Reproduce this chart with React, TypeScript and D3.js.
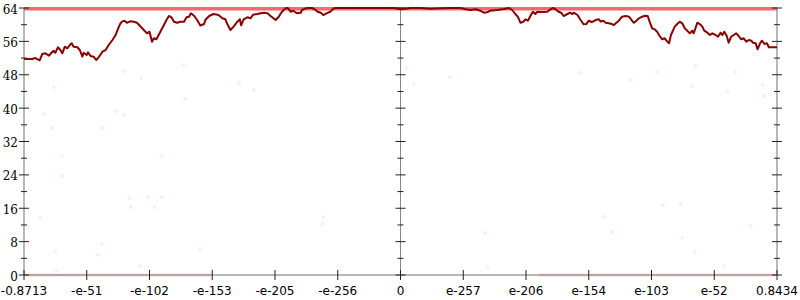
import React from "react";
import * as d3 from "d3";

// x positions are expressed in "tick units": tick i sits at i (-6..6)
const xTickLabels = ["-0.8713", "-e-51", "-e-102", "-e-153", "-e-205", "-e-256", "0", "e-257", "e-206", "e-154", "e-103", "e-52", "0.8434"];
const yMajor = [0, 8, 16, 24, 32, 40, 48, 56, 64];
const yMinor = [4, 12, 20, 28, 36, 44, 52, 60];

const lineX = [
  -6.0, -5.87, -5.82, -5.75, -5.71, -5.66, -5.6, -5.58, -5.53, -5.5, -5.46, -5.42, -5.39, -5.35, -5.31, -5.27, -5.24, -5.21, -5.15, -5.11,
  -5.07, -5.05, -5.0, -4.98, -4.94, -4.89, -4.85, -4.81, -4.75, -4.7, -4.65, -4.59, -4.54, -4.51, -4.47, -4.44, -4.4, -4.36, -4.31, -4.25,
  -4.2, -4.14, -4.09, -4.04, -4.0, -3.96, -3.93, -3.89, -3.84, -3.77, -3.73, -3.69, -3.65, -3.61, -3.56, -3.51, -3.45, -3.41, -3.37, -3.34,
  -3.29, -3.24, -3.19, -3.13, -3.11, -3.05, -2.98, -2.9, -2.84, -2.79, -2.76, -2.71, -2.66, -2.6, -2.56, -2.54, -2.5, -2.44, -2.39, -2.35,
  -2.28, -2.23, -2.17, -2.12, -2.07, -1.99, -1.94, -1.89, -1.83, -1.8, -1.75, -1.71, -1.65, -1.59, -1.57, -1.51, -1.46, -1.41, -1.37, -1.32,
  -1.27, -1.23, -1.18, -1.12, -1.06, -1.01, -0.7, -0.4, -0.1, 0.0, 0.05, 0.16, 0.32, 0.48, 0.64, 0.8, 0.96, 1.04, 1.12, 1.2,
  1.27, 1.33, 1.38, 1.43, 1.54, 1.65, 1.73, 1.78, 1.83, 1.87, 1.91, 1.96, 1.99, 2.03, 2.07, 2.11, 2.15, 2.18, 2.23, 2.34,
  2.39, 2.43, 2.47, 2.52, 2.56, 2.6, 2.66, 2.7, 2.74, 2.76, 2.82, 2.87, 2.92, 2.96, 3.0, 3.05, 3.11, 3.16, 3.19, 3.23,
  3.27, 3.32, 3.37, 3.4, 3.44, 3.48, 3.53, 3.59, 3.64, 3.69, 3.72, 3.76, 3.8, 3.85, 3.9, 3.94, 3.97, 4.01, 4.05, 4.09,
  4.13, 4.17, 4.21, 4.24, 4.28, 4.31, 4.37, 4.41, 4.45, 4.49, 4.53, 4.57, 4.61, 4.65, 4.67, 4.7, 4.73, 4.77, 4.81, 4.84,
  4.89, 4.93, 4.97, 5.02, 5.06, 5.1, 5.13, 5.16, 5.2, 5.23, 5.27, 5.31, 5.35, 5.39, 5.43, 5.47, 5.51, 5.55, 5.59, 5.62,
  5.66, 5.69, 5.73, 5.76, 5.8, 5.84, 5.87, 6.0,
];
const lineY = [
  51.77, 51.77, 52.01, 51.46, 52.97, 53.14, 52.57, 52.97, 53.76, 53.28, 54.58, 53.93, 53.14, 54.72, 54.34, 55.13, 55.54, 54.72, 54.58, 53.93,
  52.33, 53.28, 52.73, 53.38, 52.49, 52.33, 51.53, 52.18, 53.52, 53.93, 55.13, 56.33, 57.53, 58.72, 60.16, 60.72, 60.95, 60.47, 60.81, 60.72,
  60.47, 59.52, 58.72, 57.93, 58.32, 55.92, 56.74, 56.5, 57.93, 59.92, 61.12, 62.08, 61.77, 60.72, 60.47, 60.72, 60.72, 61.77, 61.91, 62.73,
  62.15, 61.12, 59.8, 60.16, 61.12, 62.08, 62.56, 62.32, 61.53, 61.29, 60.16, 58.72, 59.52, 60.72, 61.29, 59.85, 61.29, 61.77, 61.53, 62.39,
  62.56, 62.73, 62.87, 62.73, 62.08, 61.12, 61.91, 63.11, 63.93, 64.0, 63.11, 63.35, 62.73, 62.87, 63.52, 63.93, 64.0, 64.0, 63.69, 63.11,
  62.87, 62.32, 62.73, 63.11, 63.93, 64.0, 64.0, 64.0, 64.0, 63.69, 63.76, 64.0, 64.0, 63.83, 63.93, 64.0, 64.0, 63.69, 63.52, 63.69,
  63.35, 62.87, 62.97, 63.35, 63.52, 63.76, 64.0, 63.52, 62.56, 61.91, 60.47, 60.72, 61.29, 60.95, 62.08, 63.11, 62.56, 63.11, 63.04, 63.11,
  63.69, 64.0, 63.69, 63.11, 62.87, 62.08, 62.56, 62.87, 62.56, 62.87, 62.32, 61.12, 60.09, 60.16, 60.95, 60.64, 61.12, 61.29, 60.76, 60.95,
  60.47, 60.33, 60.16, 59.92, 60.47, 60.95, 61.91, 62.08, 61.91, 60.95, 60.47, 60.95, 61.53, 61.91, 62.15, 62.08, 60.72, 59.13, 58.89, 58.32,
  57.29, 56.5, 56.74, 56.16, 55.54, 57.53, 59.52, 60.16, 60.72, 60.33, 59.13, 58.56, 57.93, 58.56, 57.93, 59.13, 60.47, 60.16, 59.52, 58.56,
  58.08, 57.53, 57.93, 57.53, 57.12, 58.08, 57.53, 58.32, 57.29, 55.68, 57.12, 57.53, 57.93, 57.29, 56.5, 56.74, 55.92, 56.33, 56.16, 55.68,
  55.54, 54.1, 55.54, 56.16, 55.37, 55.54, 54.58, 54.58,
];

const dotX = [-5.53, -4.41, -4.13, -3.47, -3.43, -2.57, -2.34, 0.1, 0.21, 0.78, 2.87, 3.67, 4.08, 4.7, 4.65, 5.34, 5.21, 5.77, 5.79, -5.69,
  -5.56, -4.76, -4.54, -4.41, -5.39, -5.39, -3.81, -4.32, -4.02, -3.81, -3.92, -5.74, -5.93, -5.5, -4.76, -4.83, -4.3, -4.16, -3.2, -5.47,
  -1.23, -1.24, 1.35, 1.39, 3.24, 3.38, 4.18, 4.46, 4.49, 5.58, 4.69, 5.15];
const dotY = [45.06, 48.9, 47.22, 50.34, 42.19, 46.02, 44.34, 49.62, 45.78, 47.46, 48.42, 46.74, 48.66, 50.1, 45.3, 48.66, 44.1, 45.54, 42.91, 38.59,
  35.24, 35.24, 39.31, 38.35, 28.52, 23.73, 28.52, 18.46, 18.7, 18.7, 16.3, 13.66, 11.51, 5.75, 7.43, 4.79, 16.3, 2.16, 6.23, 0.96,
  13.9, 12.22, 10.07, 1.92, 13.9, 10.31, 16.78, 17.02, 8.87, 11.74, 5.51, 2.16];

// dense clusters of samples at the extremes, drawn as bands
const topBand = { value: 64, from: -6, to: 6 };
const bottomBands = [{ value: 0, from: -6, to: -3.0 }, { value: 0, from: 2.2, to: 6 }];

export default function App() {
  const W = 800, H = 300;
  const x = d3.scaleLinear().domain([-6, 6]).range([24, 777]);
  const y = d3.scaleLinear().domain([0, 64]).range([275, 8]);
  const pts: [number, number][] = lineX.map((v, i) => [v, lineY[i]]);
  const line = d3.line<[number, number]>().x((d) => x(d[0])).y((d) => y(d[1]));
  const xTicks = xTickLabels.map((_, i) => i - 6);
  const axisGray = "#b8b8b8";
  const tickCol = "#222";
  const vAxes = [{ pos: -6, major: 5, minor: 3, w: 2, col: axisGray }, { pos: 0, major: 5, minor: 3, w: 1, col: "#888" }, { pos: 6, major: 5, minor: 3, w: 2, col: axisGray }];
  return (
    <svg width={W} height={H} style={{ position: "absolute", left: 0, top: 0, background: "#fff" }}>
      {/* axis lines */}
      <line x1={x(-6)} x2={x(6)} y1={y(0)} y2={y(0)} stroke={axisGray} strokeWidth={2} />
      {vAxes.map((a, i) => (
        <line key={"va" + i} x1={x(a.pos)} x2={x(a.pos)} y1={y(64)} y2={y(0)} stroke={a.col} strokeWidth={a.w} />
      ))}
      {/* scattered samples */}
      {dotX.map((v, i) => (
        <circle key={"d" + i} cx={x(v)} cy={y(dotY[i])} r={2} fill="rgb(255,80,100)" fillOpacity={0.1} />
      ))}
      {/* dense bands */}
      {bottomBands.map((b, i) => (
        <line key={"bb" + i} x1={x(b.from)} x2={x(b.to)} y1={y(b.value)} y2={y(b.value)} stroke="rgb(230,60,70)" strokeOpacity={0.18} strokeWidth={3} />
      ))}
      <line x1={x(topBand.from)} x2={x(topBand.to)} y1={y(topBand.value) + 0.7} y2={y(topBand.value) + 0.7} stroke="rgb(238,40,55)" strokeOpacity={0.7} strokeWidth={3.5} />
      {/* ticks */}
      {vAxes.map((a, i) => (
        <g key={"t" + i}>
          {yMajor.map((t) => (
            <line key={"M" + t} x1={x(a.pos) - a.major} x2={x(a.pos) + a.major} y1={y(t)} y2={y(t)} stroke={tickCol} strokeWidth={1} />
          ))}
          {yMinor.map((t) => (
            <line key={"m" + t} x1={x(a.pos) - a.minor} x2={x(a.pos) + a.minor} y1={y(t)} y2={y(t)} stroke={tickCol} strokeWidth={1} />
          ))}
        </g>
      ))}
      {xTicks.map((t) => (
        <line key={"xt" + t} x1={x(t)} x2={x(t)} y1={y(0) - 5} y2={y(0) + 5} stroke={tickCol} strokeWidth={1} />
      ))}
      {/* main line */}
      <path d={line(pts) || ""} fill="none" stroke="#8b0000" strokeWidth={2} strokeLinejoin="round" />
      {/* labels */}
      {yMajor.map((t) => (
        <text key={"yl" + t} x={18} y={y(t) + 5.5} textAnchor="end" fontFamily="DejaVu Serif" fontSize={12} fill="#000">{t}</text>
      ))}
      {xTicks.map((t, i) => (
        <text key={"xl" + t} x={x(t)} y={294.5} textAnchor="middle" fontFamily="DejaVu Sans" fontSize={12} fill="#000">{xTickLabels[i]}</text>
      ))}
    </svg>
  );
}
